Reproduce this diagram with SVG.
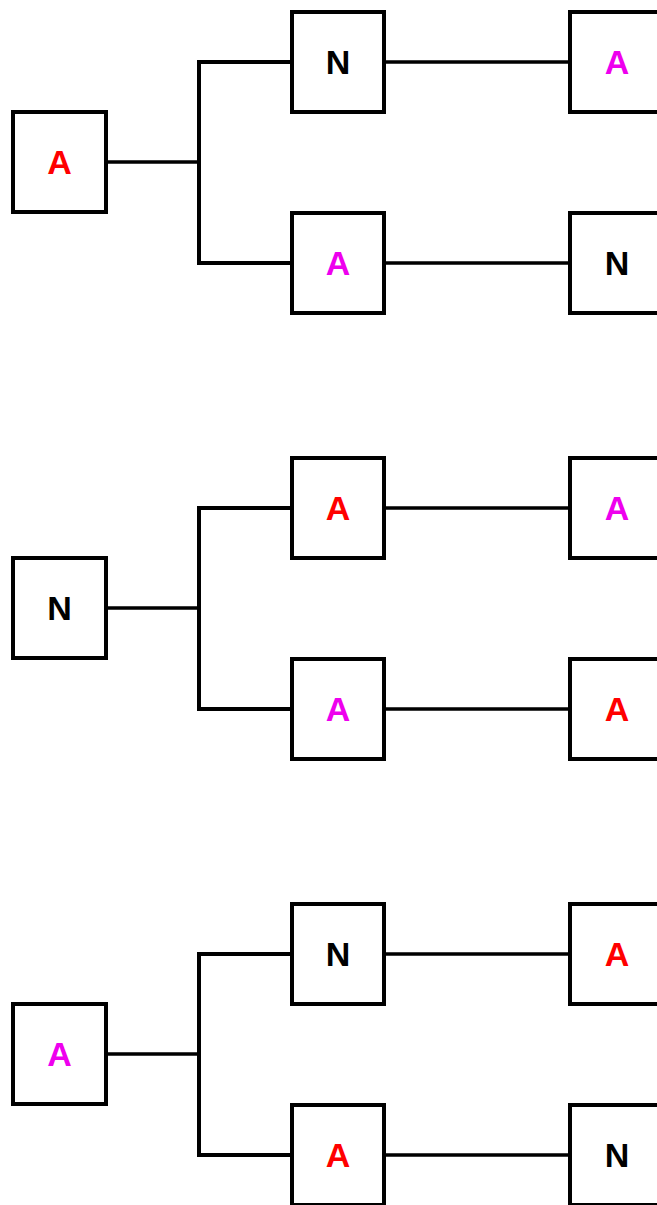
<svg xmlns="http://www.w3.org/2000/svg" width="657" height="1205" viewBox="0 0 657 1205">
  <style>
    .box { fill: #ffffff; stroke: #000000; stroke-width: 4; }
    .wire { fill: none; stroke: #000000; stroke-width: 3.5; }
    .fork { fill: none; stroke: #000000; stroke-width: 4; stroke-linejoin: miter; }
    .lbl { font-family: "Liberation Sans", Arial, sans-serif; font-weight: bold; font-size: 34px; text-anchor: middle; }
    .n { fill: #000000; }
    .r { fill: #ff0000; }
    .m { fill: #ee00ee; }
  </style>
  <rect width="657" height="1205" fill="#ffffff"/>

  <!-- connectors: root -> fork -> middle -> right, one tree per row -->
  <g id="connectors">
    <path class="wire" d="M106,162 H199 M384,62 H570 M384,263 H570"/>
    <path class="fork" d="M292,62 H199 V263 H292"/>
    <path class="wire" d="M106,608 H199 M384,508 H570 M384,709 H570"/>
    <path class="fork" d="M292,508 H199 V709 H292"/>
    <path class="wire" d="M106,1054 H199 M384,954 H570 M384,1155 H570"/>
    <path class="fork" d="M292,954 H199 V1155 H292"/>
  </g>

  <!-- tree 1 -->
  <g id="t1-root"><rect class="box" x="13" y="112" width="93" height="100"/><text class="lbl r" x="59.5" y="174">A</text></g>
  <g id="t1-mid-top"><rect class="box" x="292" y="12" width="92" height="100"/><text class="lbl n" x="338" y="74">N</text></g>
  <g id="t1-right-top"><rect class="box" x="570" y="12" width="93" height="100"/><text class="lbl m" x="617" y="74">A</text></g>
  <g id="t1-mid-bottom"><rect class="box" x="292" y="213" width="92" height="100"/><text class="lbl m" x="338" y="275">A</text></g>
  <g id="t1-right-bottom"><rect class="box" x="570" y="213" width="93" height="100"/><text class="lbl n" x="617" y="275">N</text></g>

  <!-- tree 2 -->
  <g id="t2-root"><rect class="box" x="13" y="558" width="93" height="100"/><text class="lbl n" x="59.5" y="620">N</text></g>
  <g id="t2-mid-top"><rect class="box" x="292" y="458" width="92" height="100"/><text class="lbl r" x="338" y="520">A</text></g>
  <g id="t2-right-top"><rect class="box" x="570" y="458" width="93" height="100"/><text class="lbl m" x="617" y="520">A</text></g>
  <g id="t2-mid-bottom"><rect class="box" x="292" y="659" width="92" height="100"/><text class="lbl m" x="338" y="721">A</text></g>
  <g id="t2-right-bottom"><rect class="box" x="570" y="659" width="93" height="100"/><text class="lbl r" x="617" y="721">A</text></g>

  <!-- tree 3 -->
  <g id="t3-root"><rect class="box" x="13" y="1004" width="93" height="100"/><text class="lbl m" x="59.5" y="1066">A</text></g>
  <g id="t3-mid-top"><rect class="box" x="292" y="904" width="92" height="100"/><text class="lbl n" x="338" y="966">N</text></g>
  <g id="t3-right-top"><rect class="box" x="570" y="904" width="93" height="100"/><text class="lbl r" x="617" y="966">A</text></g>
  <g id="t3-mid-bottom"><rect class="box" x="292" y="1105" width="92" height="100"/><text class="lbl r" x="338" y="1167">A</text></g>
  <g id="t3-right-bottom"><rect class="box" x="570" y="1105" width="93" height="100"/><text class="lbl n" x="617" y="1167">N</text></g>
</svg>
